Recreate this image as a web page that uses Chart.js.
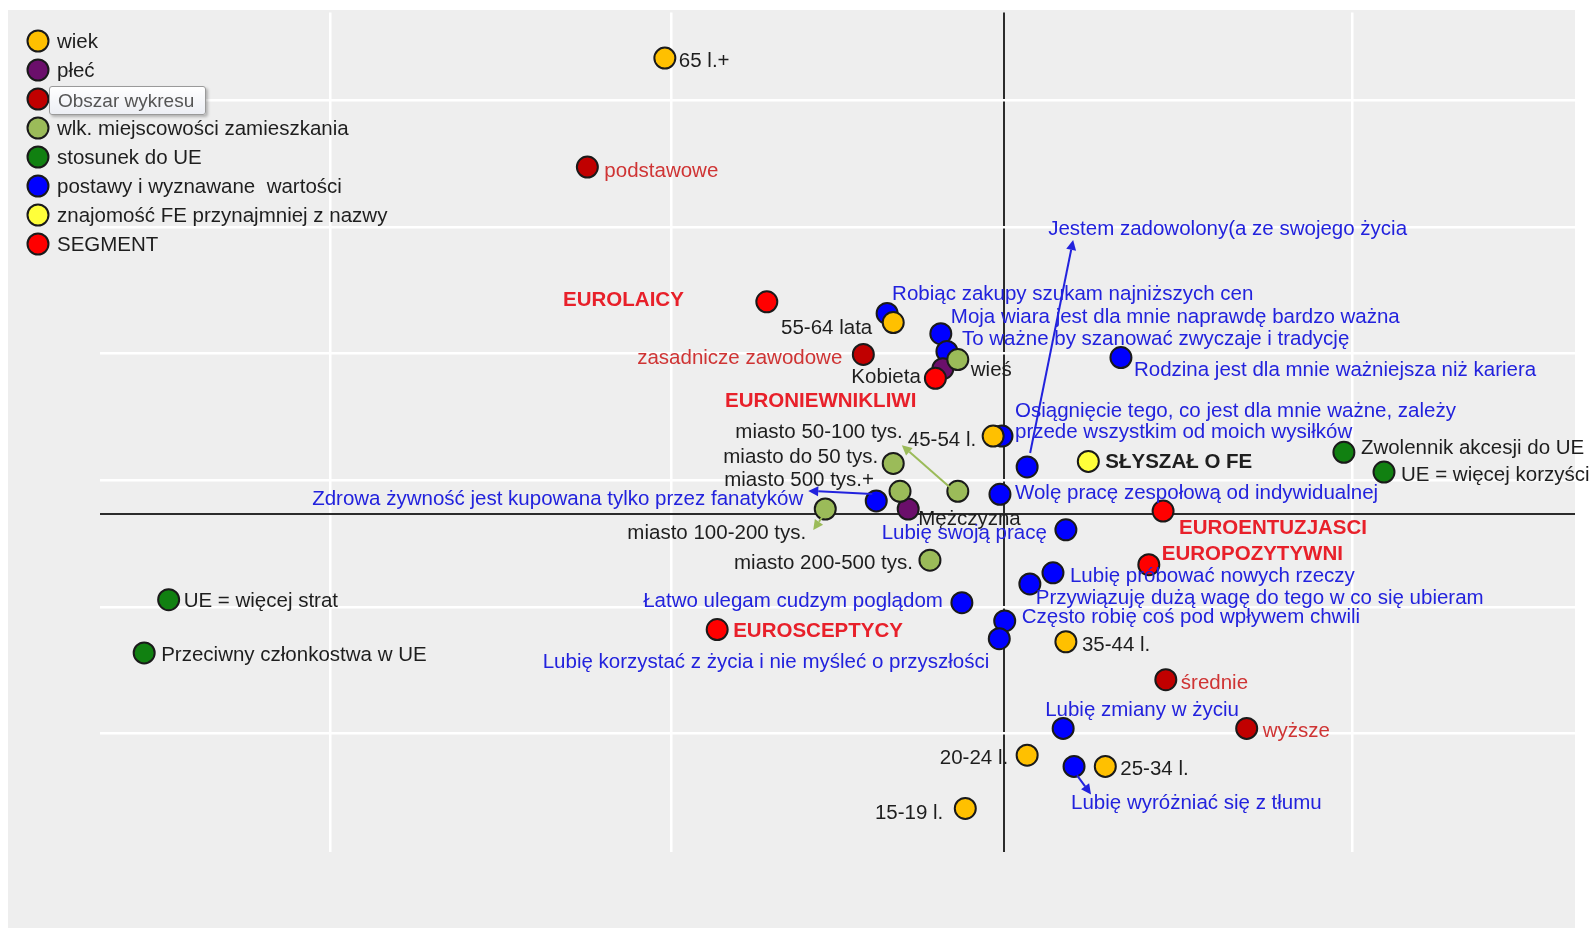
<!DOCTYPE html>
<html>
<head>
<meta charset="utf-8">
<script src="https://cdn.jsdelivr.net/npm/chart.js@4.4.0/dist/chart.umd.min.js"></script>
<style>
html,body{margin:0;padding:0;background:#fff;}
#wrap{position:relative;width:1594px;height:930px;overflow:hidden;}
canvas{display:block;}
#tip{position:absolute;left:49px;top:86px;width:157px;height:29px;box-sizing:border-box;
 border:1px solid #9a9a9a;border-radius:3px;background:linear-gradient(#ffffff,#eceef4);
 box-shadow:2px 2px 3px rgba(0,0,0,0.25);font-family:"Liberation Sans",Arial,sans-serif;
 font-size:19px;line-height:27px;color:#555;padding-left:8px;white-space:nowrap;}
</style>
</head>
<body>
<div id="wrap"><canvas id="c" width="1594" height="930"></canvas><div id="tip">Obszar wykresu</div></div>
<script>
// ---------- DATA ----------
const xGrid = [-0.991, -0.49, 0, 0.512];
const yGrid = [-0.433, -0.183, 0, 0.067, 0.317, 0.567, 0.817];

const groupNames = ['wiek','płeć','wykształcenie','wlk. miejscowości zamieszkania','stosunek do UE','postawy i wyznawane  wartości','znajomość FE przynajmniej z nazwy','SEGMENT'];

const wiekLabels = ['65 l.+','55-64 lata','45-54 l.','35-44 l.','25-34 l.','20-24 l.','15-19 l.'];
const wiekX = [-0.499,-0.163,-0.016,0.091,0.149,0.034,-0.057];
const wiekY = [0.900,0.378,0.154,-0.252,-0.498,-0.476,-0.581];

const plecLabels = ['Kobieta','Mężczyzna'];
const plecX = [-0.090,-0.141];
const plecY = [0.287,0.010];

const wyksztLabels = ['podstawowe','zasadnicze zawodowe','średnie','wyższe'];
const wyksztX = [-0.613,-0.207,0.238,0.357];
const wyksztY = [0.685,0.315,-0.327,-0.423];

const miejscLabels = ['wieś','miasto do 50 tys.','miasto 50-100 tys.','miasto 500 tys.+','miasto 100-200 tys.','miasto 200-500 tys.'];
const miejscX = [-0.068,-0.163,-0.068,-0.153,-0.263,-0.109];
const miejscY = [0.305,0.100,0.045,0.045,0.010,-0.091];

const ueLabels = ['Zwolennik akcesji do UE','UE = więcej korzyści','UE = więcej strat','Przeciwny członkostwa w UE'];
const ueX = [0.500,0.559,-1.229,-1.265];
const ueY = [0.122,0.083,-0.169,-0.274];

const postawyLabels = [
 'Jestem zadowolony(a ze swojego życia',
 'Robiąc zakupy szukam najniższych cen',
 'Moja wiara jest dla mnie naprawdę bardzo ważna',
 'To ważne by szanować zwyczaje i tradycję',
 'Rodzina jest dla mnie ważniejsza niż kariera',
 'Osiągnięcie tego, co jest dla mnie ważne, zależy\nprzede wszystkim od moich wysiłków',
 'Wolę pracę zespołową od indywidualnej',
 'Zdrowa żywność jest kupowana tylko przez fanatyków',
 'Lubię swoją pracę',
 'Lubię próbować nowych rzeczy',
 'Przywiązuję dużą wagę do tego w co się ubieram',
 'Łatwo ulegam cudzym poglądom',
 'Często robię coś pod wpływem chwili',
 'Lubię korzystać z życia i nie myśleć o przyszłości',
 'Lubię zmiany w życiu',
 'Lubię wyróżniać się z tłumu'];
const postawyX = [0.034,-0.172,-0.093,-0.084,0.172,-0.003,-0.006,-0.188,0.091,0.072,0.038,-0.062,0.001,-0.007,0.087,0.103];
const postawyY = [0.093,0.396,0.356,0.321,0.309,0.154,0.039,0.026,-0.031,-0.116,-0.138,-0.175,-0.211,-0.246,-0.423,-0.498];

const feLabels = ['SŁYSZAŁ O FE'];
const feX = [0.124];
const feY = [0.104];

const segLabels = ['EUROLAICY','EURONIEWNIKLIWI','EUROENTUZJASCI','EUROPOZYTYWNI','EUROSCEPTYCY'];
const segX = [-0.349,-0.101,0.234,0.213,-0.422];
const segY = [0.419,0.268,0.006,-0.100,-0.228];

// ---------- STYLE / LAYOUT ----------
const FONT = '"Liberation Sans", Arial, sans-serif';
const FSIZE = '20.5px ';
const groupColors = ['#FFC000','#6B0F6B','#C00000','#9BBB59','#118011','#0000FF','#FFFF3A','#FF0000'];
const groupOrder  = [5,7,3,6,4,8,2,1];
const TXT = {dark:'#1e1e1e', blue:'#2222dd', seg:'#e8202a', edu:'#cf3434'};
const groupText = [
 {c:TXT.dark,b:false},{c:TXT.dark,b:false},{c:TXT.edu,b:false},{c:TXT.dark,b:false},
 {c:TXT.dark,b:false},{c:TXT.blue,b:false},{c:TXT.dark,b:true},{c:TXT.seg,b:true}];

// [dx, dy, align]  offsets of label anchor from the point
const LABEL_LAYOUT = {
 '65 l.+':[14,3,'l'], '55-64 lata':[-21,6,'r'], '45-54 l.':[-17,4,'r'], '35-44 l.':[16,4,'l'],
 '25-34 l.':[15,3,'l'], '20-24 l.':[-19,3,'r'], '15-19 l.':[-22,5,'r'],
 'Kobieta':[-22,9,'r'], 'Mężczyzna':[10,10,'l'],
 'podstawowe':[17,4,'l'], 'zasadnicze zawodowe':[-21,4,'r'], 'średnie':[15,4,'l'], 'wyższe':[16,3,'l'],
 'wieś':[13,11,'l'], 'miasto do 50 tys.':[-15,-6,'r'], 'miasto 50-100 tys.':[-55,-59,'r'],
 'miasto 500 tys.+':[-26,-11,'r'], 'miasto 100-200 tys.':[-19,24,'r'], 'miasto 200-500 tys.':[-17,3,'r'],
 'Zwolennik akcesji do UE':[17,-4,'l'], 'UE = więcej korzyści':[17,3,'l'],
 'UE = więcej strat':[15,2,'l'], 'Przeciwny członkostwa w UE':[17,2,'l'],
 'Jestem zadowolony(a ze swojego życia':[21,-238,'l'],
 'Robiąc zakupy szukam najniższych cen':[5,-19,'l'],
 'Moja wiara jest dla mnie naprawdę bardzo ważna':[10,-16,'l'],
 'To ważne by szanować zwyczaje i tradycję':[15,-12,'l'],
 'Rodzina jest dla mnie ważniejsza niż kariera':[13,13,'l'],
 'Osiągnięcie tego, co jest dla mnie ważne, zależy\nprzede wszystkim od moich wysiłków':[13,-25,'l'],
 'Wolę pracę zespołową od indywidualnej':[15,-1,'l'],
 'Zdrowa żywność jest kupowana tylko przez fanatyków':[-73,-2,'r'],
 'Lubię swoją pracę':[-19,4,'r'],
 'Lubię próbować nowych rzeczy':[17,4,'l'],
 'Przywiązuję dużą wagę do tego w co się ubieram':[6,14,'l'],
 'Łatwo ulegam cudzym poglądom':[-19,-1,'r'],
 'Często robię coś pod wpływem chwili':[17,-4,'l'],
 'Lubię korzystać z życia i nie myśleć o przyszłości':[-10,24,'r'],
 'Lubię zmiany w życiu':[-18,-18,'l'],
 'Lubię wyróżniać się z tłumu':[-3,37,'l'],
 'SŁYSZAŁ O FE':[17,1,'l'],
 'EUROLAICY':[-83,-1,'r'], 'EURONIEWNIKLIWI':[-19,23,'r'], 'EUROENTUZJASCI':[16,17,'l'],
 'EUROPOZYTYWNI':[13,-10,'l'], 'EUROSCEPTYCY':[16,2,'l']
};
// arrows: from/to offsets relative to the point
const ARROWS = [
 {name:'Jestem zadowolony(a ze swojego życia', from:[3,-14], to:[46,-227], color:'#2222dd'},
 {name:'Zdrowa żywność jest kupowana tylko przez fanatyków', from:[-4,-7], to:[-68,-10], color:'#2222dd'},
 {name:'miasto 50-100 tys.', from:[-8,-4], to:[-56,-46], color:'#9BBB59'},
 {name:'miasto 100-200 tys.', from:[-3,8], to:[-12,21], color:'#9BBB59'},
 {name:'Lubię wyróżniać się z tłumu', from:[3,9], to:[17,28], color:'#2222dd'}
];

// ---------- BUILD ----------
const groups = [
 [wiekLabels,wiekX,wiekY],[plecLabels,plecX,plecY],[wyksztLabels,wyksztX,wyksztY],
 [miejscLabels,miejscX,miejscY],[ueLabels,ueX,ueY],[postawyLabels,postawyX,postawyY],
 [feLabels,feX,feY],[segLabels,segX,segY]];

const datasets = groups.map((g,gi)=>({
  label: groupNames[gi],
  data: g[0].map((n,i)=>({x:g[1][i], y:g[2][i], name:n})),
  backgroundColor: groupColors[gi],
  borderColor: '#1a1a1a',
  borderWidth: 2,
  pointRadius: 10.5,
  pointHoverRadius: 10.5,
  order: groupOrder[gi],
  gi: gi
}));

function arrow(ctx, x1,y1,x2,y2,color){
  ctx.save();
  ctx.strokeStyle=color; ctx.fillStyle=color; ctx.lineWidth=2;
  const a=Math.atan2(y2-y1,x2-x1), L=10, W=5;
  const bx=x2-L*Math.cos(a), by=y2-L*Math.sin(a);
  ctx.beginPath(); ctx.moveTo(x1,y1); ctx.lineTo(bx,by); ctx.stroke();
  ctx.beginPath(); ctx.moveTo(x2,y2);
  ctx.lineTo(bx+W*Math.sin(a), by-W*Math.cos(a));
  ctx.lineTo(bx-W*Math.sin(a), by+W*Math.cos(a));
  ctx.closePath(); ctx.fill();
  ctx.restore();
}

const decoPlugin = {
  id:'deco',
  beforeDraw(chart){
    const ctx=chart.ctx; ctx.save();
    ctx.fillStyle='#ffffff'; ctx.fillRect(0,0,chart.width,chart.height);
    ctx.fillStyle='#eeeeee'; ctx.fillRect(8,10,1567,918);
    ctx.restore();
  },
  afterDatasetsDraw(chart){
    const ctx=chart.ctx; ctx.save();
    ctx.textBaseline='middle';
    const pos={};
    chart.data.datasets.forEach((ds,di)=>{
      const meta=chart.getDatasetMeta(di);
      const st=groupText[ds.gi];
      ctx.fillStyle=st.c;
      ctx.font=(st.b?'bold ':'')+FSIZE+FONT;
      ds.data.forEach((p,i)=>{
        const el=meta.data[i];
        pos[p.name]=[el.x,el.y];
        const lay=LABEL_LAYOUT[p.name]||[14,0,'l'];
        ctx.textAlign= lay[2]==='r'?'right':'left';
        const lines=p.name.split('\n');
        lines.forEach((t,li)=>ctx.fillText(t, el.x+lay[0], el.y+lay[1]+li*21));
      });
    });
    ARROWS.forEach(a=>{
      const p=pos[a.name]; if(!p) return;
      arrow(ctx,p[0]+a.from[0],p[1]+a.from[1],p[0]+a.to[0],p[1]+a.to[1],a.color);
    });
    // legend
    ctx.textAlign='left';
    ctx.font=FSIZE+FONT;
    groupNames.forEach((n,i)=>{
      const y=41+i*29;
      ctx.beginPath(); ctx.arc(38,y,10.5,0,Math.PI*2);
      ctx.fillStyle=groupColors[i]; ctx.fill();
      ctx.lineWidth=2; ctx.strokeStyle='#1a1a1a'; ctx.stroke();
      ctx.fillStyle=TXT.dark; ctx.fillText(n,57,y+1);
    });
    ctx.restore();
  }
};

new Chart(document.getElementById('c'),{
  type:'scatter',
  data:{datasets},
  options:{
    responsive:false, animation:false, events:[],
    layout:{padding:{left:100,top:10,right:19,bottom:78}},
    plugins:{legend:{display:false},tooltip:{enabled:false}},
    scales:{
      x:{type:'linear',min:-1.33,max:0.84,
        afterBuildTicks:s=>{s.ticks=xGrid.map(v=>({value:v}));},
        ticks:{display:false},
        grid:{drawTicks:false,
          color:c=>(c.tick&&c.tick.value===0)?'#2b2b2b':'#ffffff',
          lineWidth:c=>(c.tick&&c.tick.value===0)?2:2.5},
        border:{display:false}},
      y:{type:'linear',min:-0.667,max:0.99,
        afterBuildTicks:s=>{s.ticks=yGrid.map(v=>({value:v}));},
        ticks:{display:false},
        grid:{drawTicks:false,
          color:c=>(c.tick&&c.tick.value===0)?'#2b2b2b':'#ffffff',
          lineWidth:c=>(c.tick&&c.tick.value===0)?2:2.5},
        border:{display:false}}
    }
  },
  plugins:[decoPlugin]
});
</script>
</body>
</html>
